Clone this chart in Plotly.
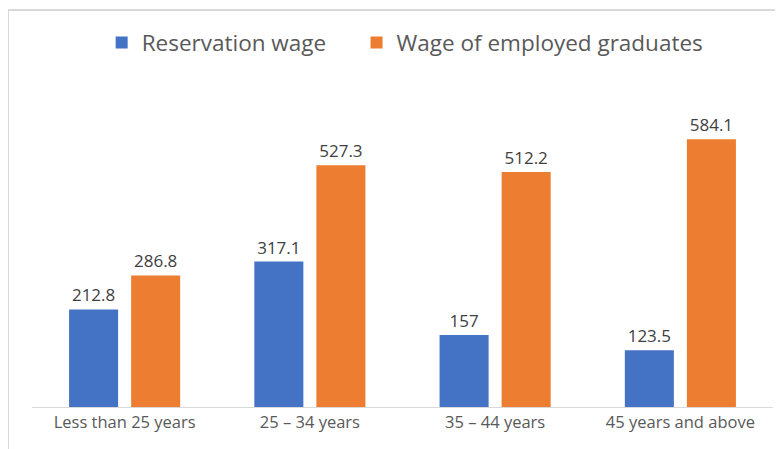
import plotly.graph_objects as go

categories = ["Less than 25 years", "25 – 34 years", "35 – 44 years", "45 years and above"]
reservation_wage = [212.8, 317.1, 157, 123.5]
employed_wage = [286.8, 527.3, 512.2, 584.1]
reservation_labels = ["212.8", "317.1", "157", "123.5"]
employed_labels = ["286.8", "527.3", "512.2", "584.1"]

BLUE = "#4472C4"
ORANGE = "#ED7D31"
FONT = "'Open Sans', sans-serif"

fig = go.Figure()
fig.add_trace(go.Bar(
    x=categories, y=reservation_wage, name="Reservation wage",
    marker={"color": BLUE, "line": {"width": 0}},
    text=reservation_labels, textposition="outside",
    textfont={"size": 17, "color": "#404040"}, cliponaxis=False,
    legend="legend",
))
fig.add_trace(go.Bar(
    x=categories, y=employed_wage, name="Wage of employed graduates",
    marker={"color": ORANGE, "line": {"width": 0}},
    text=employed_labels, textposition="outside",
    textfont={"size": 17, "color": "#404040"}, cliponaxis=False,
    legend="legend2",
))

legend_style = {
    "orientation": "h", "xanchor": "left", "y": 1.134, "yanchor": "middle",
    "font": {"size": 22.5, "color": "#595959"}, "bgcolor": "rgba(0,0,0,0)",
}

# page body adds an 8px offset, so margins are shifted to compensate
fig.update_layout(
    width=783, height=449,
    margin={"l": 24, "r": 18, "t": 78, "b": 50, "autoexpand": False},
    paper_bgcolor="white", plot_bgcolor="white",
    font={"family": FONT, "color": "#595959"},
    barmode="group", bargap=0.33, bargroupgap=0.21,
    showlegend=True,
    legend={**legend_style, "x": 0.094},
    legend2={**legend_style, "x": 0.438},
    shapes=[{
        "type": "rect", "xref": "paper", "yref": "paper",
        "x0": -0.0324, "x1": 1.1, "y0": -0.3, "y1": 1.2368,
        "line": {"color": "#d9d9d9", "width": 2}, "fillcolor": "rgba(0,0,0,0)",
    }],
)
fig.update_xaxes(
    showline=True, linecolor="#d9d9d9", linewidth=1,
    ticks="", tickfont={"size": 16.5, "color": "#595959"}, showgrid=False,
)
fig.update_yaxes(range=[0, 700], visible=False, showgrid=False)

fig.write_html("out.html")
